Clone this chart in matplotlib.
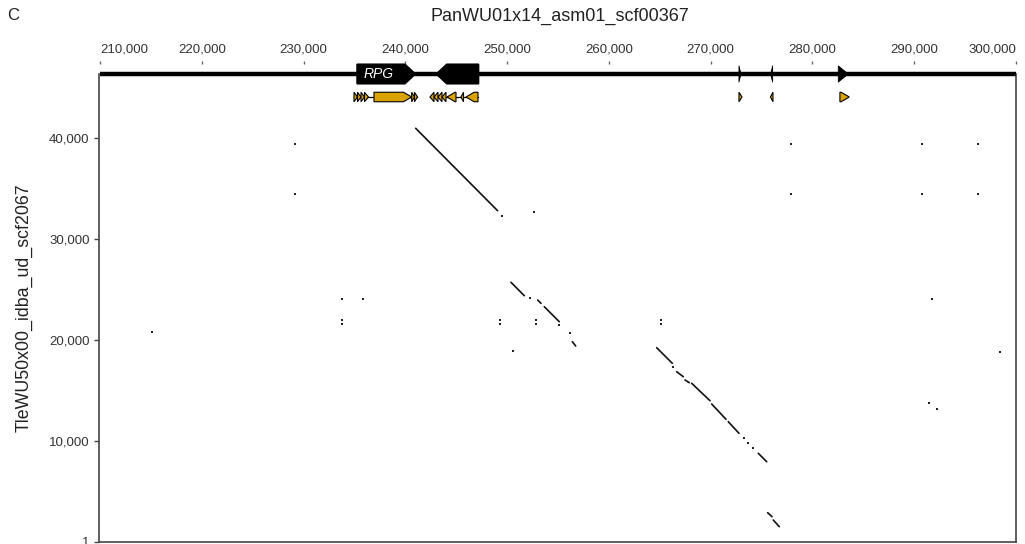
import matplotlib
matplotlib.use('Agg')
import matplotlib.pyplot as plt
from matplotlib.patches import Polygon
from matplotlib.ticker import FuncFormatter

plt.rcParams['font.family'] = ['Liberation Sans', 'DejaVu Sans']

# query scaffold (x) and subject scaffold (y)
x_name = 'PanWU01x14_asm01_scf00367'
y_name = 'TleWU50x00_idba_ud_scf2067'
x_ticks = [210000, 220000, 230000, 240000, 250000, 260000, 270000, 280000, 290000, 300000]
y_ticks = [1, 10000, 20000, 30000, 40000]

# genes drawn on the scaffold line
big_start = [235280, 243080, 272780, 275890, 282540]
big_end = [240950, 247170, 272980, 276090, 283520]
big_strand = [1, -1, 1, -1, 1]
big_label = ['RPG', '', '', '', '']

# annotated genes (row under the scaffold)
gene_start = [234956, 235300, 235644, 235988, 236920, 240624, 240899,
              242423, 242816, 243209, 243602, 244093, 245468, 245960,
              272782, 275875, 282700]
gene_end = [235300, 235644, 235988, 236381, 240624, 240899, 241194,
            242816, 243209, 243602, 243995, 244977, 245714, 247139,
            273077, 276120, 283620]
gene_strand = [1, 1, 1, 1, 1, 1, 1,
               -1, -1, -1, -1, -1, -1, -1,
               1, -1, 1]
cluster_start = [234956, 242423]
cluster_end = [241194, 247139]

# alignment segments (x0, x1, y0, y1)
seg_x0 = [241017, 250380, 253004, 253653, 256405, 264696, 266661, 267476,
          268135, 270100, 271731, 274678, 275602, 276153]
seg_x1 = [249064, 251688, 253328, 255127, 256739, 266229, 267310, 267899,
          269933, 271505, 272782, 275503, 276025, 276742]
seg_y0 = [40928, 25693, 23941, 23278, 19817, 19223, 16849, 16028,
          15702, 13654, 11903, 8776, 2900, 2177]
seg_y1 = [32777, 24367, 23615, 21794, 19392, 17680, 16354, 15761,
          13980, 12140, 10755, 7945, 2504, 1515]

# short hits (dots)
dot_x = [229159, 229159, 233777, 235840, 233777, 233777, 215080,
         249300, 249300, 252837, 252837, 265118, 265118,
         249467, 252610, 252248, 255127, 256208, 250607, 266327,
         273273, 273696, 274187,
         277862, 277862, 290762, 290762, 296294, 296294,
         291712, 298397, 291480, 292236]
dot_y = [39345, 34429, 24011, 24011, 21914, 21568, 20747,
         21914, 21568, 21914, 21568, 21914, 21568,
         32282, 32618, 24110, 21468, 20648, 18896, 17343,
         10260, 9766, 9271,
         39345, 34429, 39345, 34429, 39345, 34429,
         24011, 18828, 13782, 13129]

gold = '#DBA300'
x_min, x_max = 210000, 300000
y_min, y_max = 1, 46300
row_y = 44025


def arrow_poly(start, end, strand, yc, half, head, taper=0.0):
    length = end - start
    h = min(head, length)
    if strand > 0:
        neck = end - h
        pts = [(start, yc - half), (neck, yc - half), (end, yc - taper),
               (end, yc + taper), (neck, yc + half), (start, yc + half)]
    else:
        neck = start + h
        pts = [(end, yc - half), (neck, yc - half), (start, yc - taper),
               (start, yc + taper), (neck, yc + half), (end, yc + half)]
    return pts


fig = plt.figure(figsize=(10.25, 5.44), dpi=100)
ax = fig.add_axes([100 / 1025, 2 / 544, 916 / 1025, 468 / 544])
ax.set_xlim(x_min, x_max)
ax.set_ylim(y_min, y_max)

# dot plot
for x0, x1, y0, y1 in zip(seg_x0, seg_x1, seg_y0, seg_y1):
    ax.plot([x0, x1], [y0, y1], color='#111111', lw=1.2, solid_capstyle='round')
ax.scatter(dot_x, dot_y, s=3.5, marker='s', color='#222222', linewidths=0)

# scaffold line
ax.plot([x_min, x_max], [y_max, y_max], color='black', lw=3.2,
        clip_on=False, solid_capstyle='butt', zorder=5)
for s, e, st, lab in zip(big_start, big_end, big_strand, big_label):
    long_gene = (e - s) > 1000
    pts = arrow_poly(s, e, st, y_max, 940 if long_gene else 800, 1000)
    ax.add_patch(Polygon(pts, closed=True, facecolor='black', edgecolor='black',
                         lw=1.5 if long_gene else 0.6, joinstyle='round',
                         clip_on=False, zorder=6))
    if lab:
        ax.text(237400, y_max, lab, color='white', style='italic', fontsize=10,
                ha='center', va='center', zorder=7, clip_on=False)

# annotation row
for s, e in zip(cluster_start, cluster_end):
    ax.plot([s, e], [row_y, row_y], color='black', lw=0.9, zorder=3)
for s, e, st in zip(gene_start, gene_end, gene_strand):
    pts = arrow_poly(s, e, st, row_y, 470, 800)
    ax.add_patch(Polygon(pts, closed=True, facecolor=gold, edgecolor='black',
                         lw=0.8, zorder=4))

# axes styling
for side in ['left', 'right', 'bottom']:
    ax.spines[side].set_color('#444444')
    ax.spines[side].set_linewidth(1.2)
ax.spines['top'].set_visible(False)
ax.spines['top'].set_position(('outward', 7))
ax.spines['left'].set_position(('outward', 1))

ax.xaxis.tick_top()
ax.set_xticks(x_ticks)
ax.set_yticks(y_ticks)
comma = FuncFormatter(lambda v, p: f'{int(v):,}')
ax.xaxis.set_major_formatter(comma)
ax.yaxis.set_major_formatter(comma)
ax.tick_params(axis='x', direction='out', length=2.5, width=1, color='#666666',
               labelsize=9.5, labelcolor='#333333', pad=4)
ax.tick_params(axis='y', direction='out', length=3.5, width=1, color='#444444',
               labelsize=9.5, labelcolor='#333333', pad=3)
ax.set_ylabel(y_name, fontsize=12.8, color='#222222', labelpad=12)

# keep the end labels inside the figure
xlabels = ax.get_xticklabels()
xlabels[0].set_horizontalalignment('left')
xlabels[-1].set_horizontalalignment('right')

fig.text(560 / 1025, 1 - 16 / 544, x_name, ha='center', va='center',
         fontsize=13, color='#222222')
fig.text(13 / 1025, 1 - 16 / 544, 'C', ha='center', va='center',
         fontsize=12, color='#222222')

fig.savefig('out.png', dpi=100)
